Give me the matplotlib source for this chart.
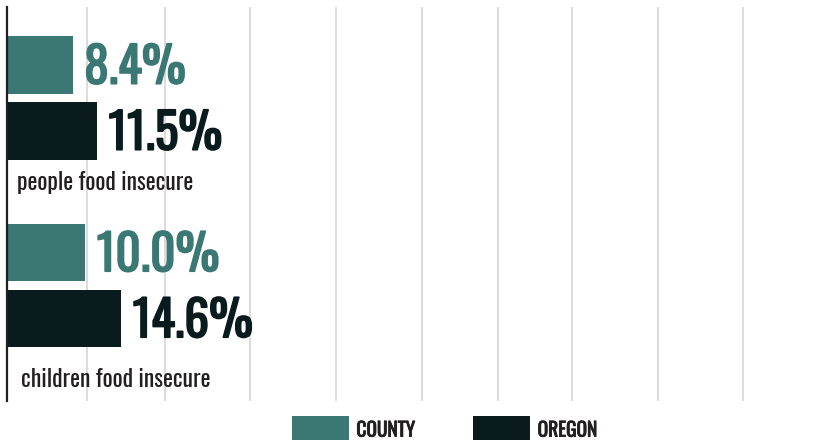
import matplotlib
matplotlib.use("Agg")
import matplotlib.pyplot as plt
import matplotlib.patheffects as pe
import numpy as np

# data
categories = ["people food insecure", "children food insecure"]
county = [8.4, 10.0]
oregon = [11.5, 14.6]
series_names = ["COUNTY", "OREGON"]

teal = "#3b7773"
dark = "#0a1b1d"
textcol = "#231f20"

plt.rcParams['font.family'] = ['Oswald', 'DejaVu Sans']

def heavy(color, w):
    # Oswald only ships one weight here, so thicken it with a stroke
    return [pe.Stroke(linewidth=w, foreground=color), pe.Normal()]

fig = plt.figure(figsize=(8.22, 4.40), dpi=100)
ax = fig.add_axes([7/822, 39/440, 815/822, 394/440])

y = np.arange(len(categories))
off = 0.176
h = 0.307
b1 = ax.barh(y - off, county, height=h, color=teal, label=series_names[0])
b2 = ax.barh(y + off, oregon, height=h, color=dark, label=series_names[1])

# value labels
for i in range(len(categories)):
    ax.text(county[i] + 1.5, y[i] - off + 0.1, f"{county[i]:.1f}%", color=teal,
            fontsize=35.5, va="baseline", ha="left", path_effects=heavy(teal, 1.2))
    ax.text(oregon[i] + 1.5, y[i] + off + 0.1, f"{oregon[i]:.1f}%", color=dark,
            fontsize=35.5, va="baseline", ha="left", path_effects=heavy(dark, 1.2))

# category labels under each pair
label_dy = [0.453, 0.504]
label_dx = [1.3, 1.8]
for i, c in enumerate(categories):
    ax.text(label_dx[i], y[i] + label_dy[i], c, color=textcol, fontsize=17,
            va="center", ha="left")

ax.set_xlim(0, 104.5)
ax.set_ylim(1.616, -0.485)
ax.set_xticks([10.2, 20.2, 31.2, 42.2, 53.2, 63.0, 72.5, 83.5, 94.4])
ax.set_yticks([])
ax.tick_params(axis="x", length=0, labelbottom=False)
ax.grid(axis="x", color="#d6d6d6", linewidth=1.2)
ax.set_axisbelow(True)
for s in ["top", "right", "bottom"]:
    ax.spines[s].set_visible(False)
ax.spines["left"].set_color(textcol)
ax.spines["left"].set_linewidth(1.6)

leg = fig.legend(handles=[b1, b2], loc="upper center", bbox_to_anchor=(0.541, 24/440),
                 ncol=2, frameon=False, prop={"size": 14},
                 handlelength=2.9, handleheight=1.9, handletextpad=0.4,
                 columnspacing=3.0, borderpad=0, borderaxespad=0)
for t in leg.get_texts():
    t.set_color(textcol)
    t.set_path_effects(heavy(textcol, 0.6))

fig.savefig("out.png", dpi=100)
